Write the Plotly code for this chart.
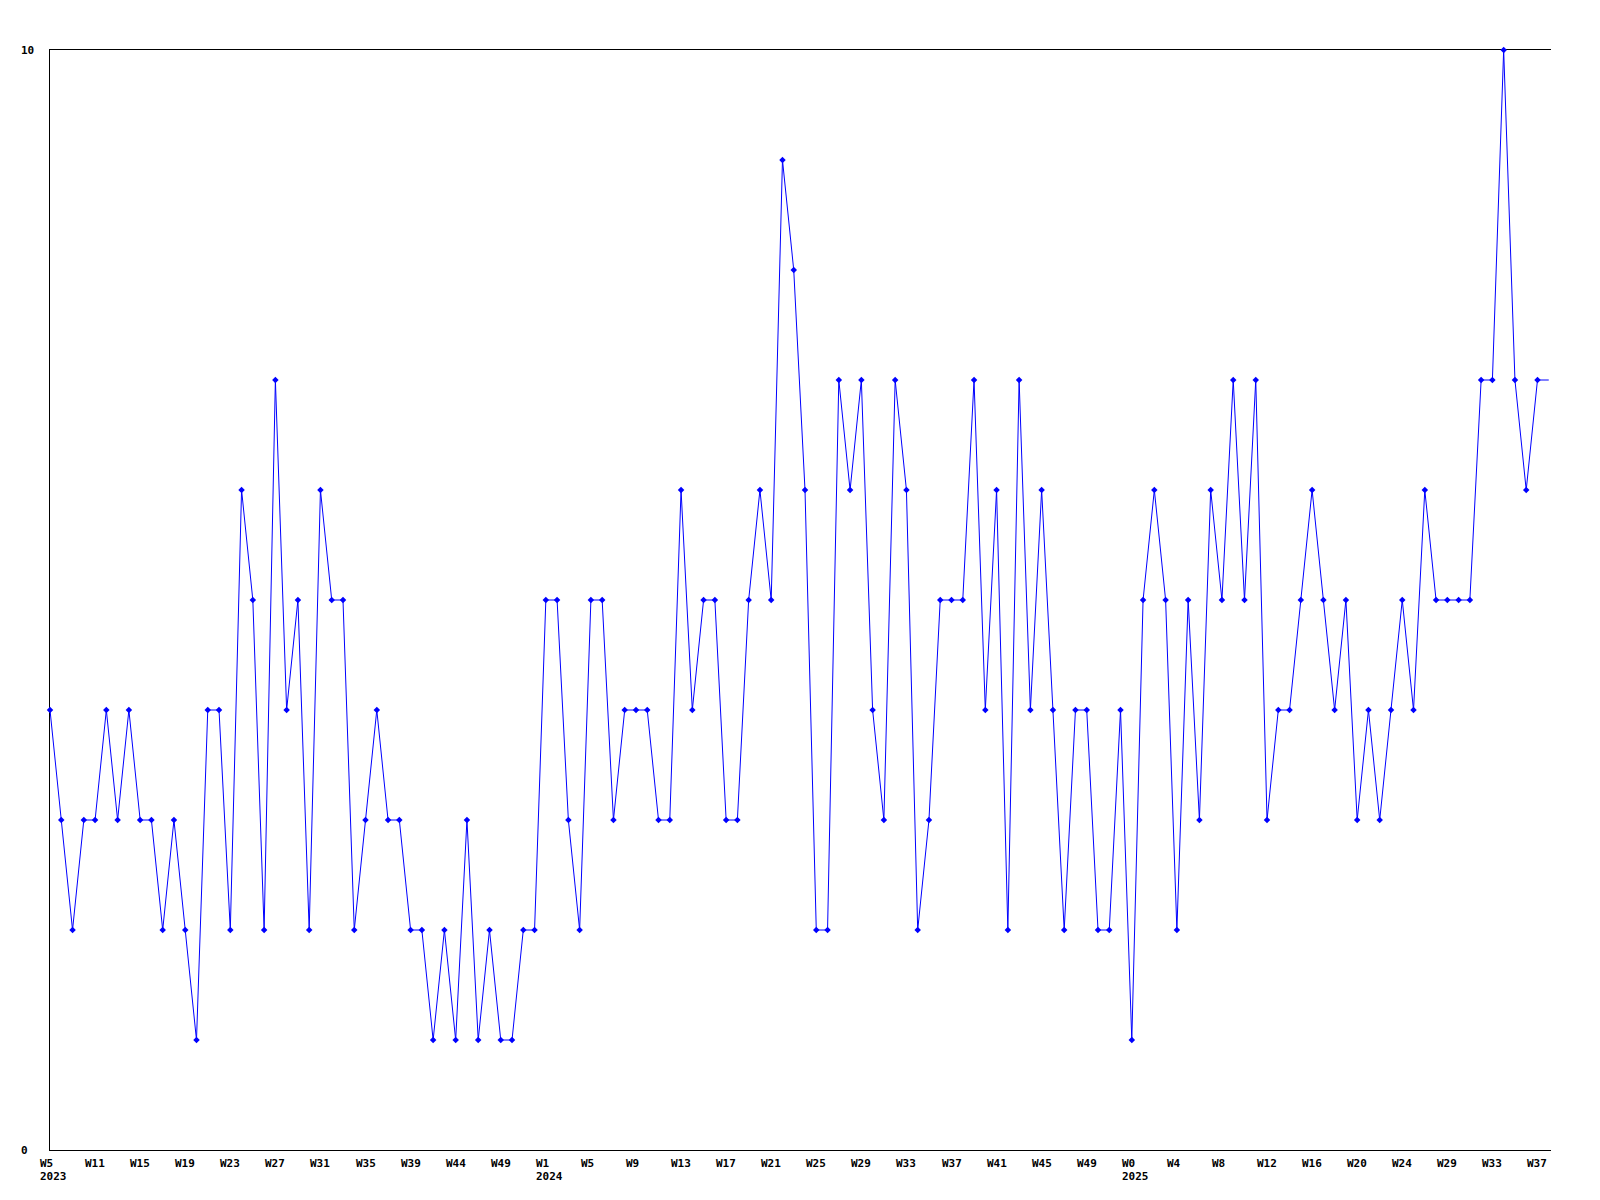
import plotly.graph_objects as go

# weekly counts, one per point
values = [
    4, 3, 2, 3, 3, 4, 3, 4, 3, 3,
    2, 3, 2, 1, 4, 4, 2, 6, 5, 2,
    7, 4, 5, 2, 6, 5, 5, 2, 3, 4,
    3, 3, 2, 2, 1, 2, 1, 3, 1, 2,
    1, 1, 2, 2, 5, 5, 3, 2, 5, 5,
    3, 4, 4, 4, 3, 3, 6, 4, 5, 5,
    3, 3, 5, 6, 5, 9, 8, 6, 2, 2,
    7, 6, 7, 4, 3, 7, 6, 2, 3, 5,
    5, 5, 7, 4, 6, 2, 7, 4, 6, 4,
    2, 4, 4, 2, 2, 4, 1, 5, 6, 5,
    2, 5, 3, 6, 5, 7, 5, 7, 3, 4,
    4, 5, 6, 5, 4, 5, 3, 4, 3, 4,
    5, 4, 6, 5, 5, 5, 5, 7, 7, 10,
    7, 6, 7,
]
tick_labels = [
    "W5", "W11", "W15", "W19", "W23", "W27", "W31", "W35", "W39", "W44", "W49",
    "W1", "W5", "W9", "W13", "W17", "W21", "W25", "W29", "W33", "W37", "W41",
    "W45", "W49", "W0", "W4", "W8", "W12", "W16", "W20", "W24", "W29", "W33", "W37",
]
years = ["2023", "2024", "2025"]
y_ticks = [0, 10]
label_every = 4

x = list(range(len(values)))
tick_pos = x[::label_every]

# a new year starts where the week number drops
year_pos = []
prev = None
for pos, lab in zip(tick_pos, tick_labels):
    wk = int(lab[1:])
    if prev is None or wk < prev:
        year_pos.append(pos)
    prev = wk

font = dict(family="DejaVu Sans Mono", size=11, color="black")

fig = go.Figure()
fig.add_trace(
    go.Scatter(
        x=x,
        y=values,
        mode="lines+markers",
        line=dict(color="#0000ff", width=1),
        marker=dict(symbol="diamond", size=5, color="#0000ff"),
        cliponaxis=False,
        hoverinfo="skip",
    )
)
# current value carried on to the right edge
fig.add_trace(
    go.Scatter(
        x=[x[-1], x[-1] + 1],
        y=[values[-1], values[-1]],
        mode="lines",
        line=dict(color="#0000ff", width=1),
        hoverinfo="skip",
    )
)

annotations = []
for v in y_ticks:
    annotations.append(
        dict(x=0, xref="paper", y=v, yref="y", text=f"<b>{v}</b>", showarrow=False,
             xanchor="left", yanchor="middle", xshift=-31, font=font)
    )
for pos, lab in zip(tick_pos, tick_labels):
    annotations.append(
        dict(x=pos, xref="x", y=0, yref="paper", text=f"<b>{lab}</b>", showarrow=False,
             xanchor="left", yanchor="top", xshift=-12, yshift=-5, font=font)
    )
for pos, yr in zip(year_pos, years):
    annotations.append(
        dict(x=pos, xref="x", y=0, yref="paper", text=f"<b>{yr}</b>", showarrow=False,
             xanchor="left", yanchor="top", xshift=-12, yshift=-18, font=font)
    )

# page body adds an 8px margin, so the figure is sized to fit inside it
fig.update_layout(
    width=1584,
    height=1184,
    margin=dict(l=42, r=41, t=42, b=42),
    paper_bgcolor="white",
    plot_bgcolor="white",
    showlegend=False,
    annotations=annotations,
)
fig.update_xaxes(
    range=[0, len(values) - 1 + 1.2],
    showgrid=False, zeroline=False, showticklabels=False, ticks="",
    showline=True, linecolor="black", linewidth=1, mirror=True,
    layer="below traces",
)
fig.update_yaxes(
    range=[y_ticks[0], y_ticks[-1]],
    showgrid=False, zeroline=False, showticklabels=False, ticks="",
    showline=True, linecolor="black", linewidth=1,
    layer="below traces",
)

fig.write_html("out.html")
